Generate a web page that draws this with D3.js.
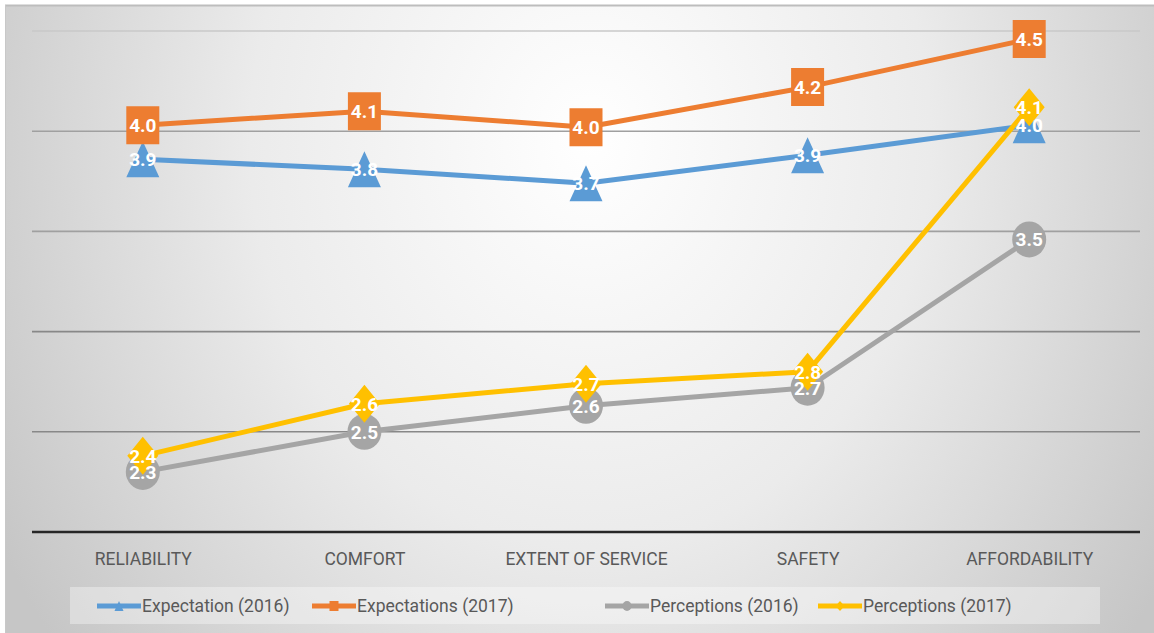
<!DOCTYPE html>
<html>
<head>
<meta charset="utf-8">
<script src="https://cdn.jsdelivr.net/npm/d3@7"></script>
<style>
    html, body { margin: 0; padding: 0; background: #ffffff; }
    #chart { width: 1154px; height: 633px; }
</style>
</head>
<body>
<div id="chart"></div>
<script>
const categories = ['RELIABILITY', 'COMFORT', 'EXTENT OF SERVICE', 'SAFETY', 'AFFORDABILITY'];
const seriesNames = ['Expectation (2016)', 'Expectations (2017)', 'Perceptions (2016)', 'Perceptions (2017)'];
const expectation2016 = [3.86, 3.81, 3.74, 3.88, 4.03];
const expectations2017 = [4.03, 4.10, 4.02, 4.22, 4.46];
const perceptions2016 = [2.30, 2.50, 2.63, 2.72, 3.46];
const perceptions2017 = [2.38, 2.64, 2.74, 2.80, 4.12];
const yTicks = [2.0, 2.5, 3.0, 3.5, 4.0, 4.5];

const width = 1154;
const height = 633;
const [mt, mr, mb, ml] = [31, 14, 101, 32];

const colors = ['#5b9bd5', '#ed7d31', '#a5a5a5', '#ffc000'];
const shapes = ['triangle', 'square', 'circle', 'diamond'];

// marker path, centred on 0,0
const markerPath = (shape, w, h) => {
    const hw = w / 2;
    const hh = h / 2;
    if (shape === 'triangle') return `M0,${-hh}L${hw},${hh}L${-hw},${hh}Z`;
    if (shape === 'square') return `M${-hw},${-hh}H${hw}V${hh}H${-hw}Z`;
    if (shape === 'diamond') return `M0,${-hh}L${hw},0L0,${hh}L${-hw},0Z`;
    return `M${-hw},0A${hw},${hh} 0 1,0 ${hw},0A${hw},${hh} 0 1,0 ${-hw},0Z`;
};

const svg = d3
    .select('#chart')
    .append('svg')
    .attr('width', width)
    .attr('height', height)
    .attr('viewBox', [0, 0, width, height])
    .attr('font-family', 'Roboto, "Open Sans", sans-serif');

// background gradient, light in the top middle, darker toward the sides
const defs = svg.append('defs');
const grad = defs
    .append('radialGradient')
    .attr('id', 'bg')
    .attr('gradientUnits', 'userSpaceOnUse')
    .attr('cx', 590)
    .attr('cy', 140)
    .attr('r', 680)
    .attr('gradientTransform', 'translate(590,140) scale(1,1.2) translate(-590,-140)');
grad.append('stop').attr('offset', '0%').attr('stop-color', '#ffffff');
grad.append('stop').attr('offset', '50%').attr('stop-color', '#ebebeb');
grad.append('stop').attr('offset', '100%').attr('stop-color', '#c6c6c6');

svg.append('rect')
    .attr('x', 5)
    .attr('y', 5)
    .attr('width', width - 5)
    .attr('height', height - 5)
    .attr('fill', 'url(#bg)');
svg.append('line')
    .attr('x1', 5)
    .attr('x2', width)
    .attr('y1', 5.5)
    .attr('y2', 5.5)
    .attr('stroke', '#bdbdbd')
    .attr('stroke-width', 2);
svg.append('line')
    .attr('x1', 5.5)
    .attr('x2', 5.5)
    .attr('y1', 5)
    .attr('y2', height)
    .attr('stroke', '#c8c8c8')
    .attr('stroke-width', 1);

const x = d3
    .scalePoint()
    .domain(categories)
    .range([ml, width - mr])
    .padding(0.5);

const y = d3
    .scaleLinear()
    .domain([2, 4.5])
    .range([height - mb, mt]);

const graph = svg.append('g');

// gridlines
graph
    .append('g')
    .selectAll('line')
    .data(yTicks.slice(1))
    .join('line')
    .attr('x1', ml)
    .attr('x2', width - mr)
    .attr('y1', (d) => y(d))
    .attr('y2', (d) => y(d))
    .attr('stroke', (d) => (d > 4.2 ? '#c8c8c8' : d > 3.2 ? '#a0a0a0' : '#888888'))
    .attr('stroke-width', 1.6);

// x axis
const xAxis = d3.axisBottom(x).tickSize(0).tickPadding(21);
graph
    .append('g')
    .attr('transform', `translate(0, ${y(yTicks[0])})`)
    .call(xAxis)
    .call((g) => g.select('.domain').attr('stroke', '#262626').attr('stroke-width', 2.5).attr('d', `M${ml},0H${width - mr}`))
    .call((g) =>
        g
            .selectAll('text')
            .attr('font-size', 17.5)
            .attr('fill', '#595959')
            .attr('font-family', 'Roboto, sans-serif')
    );

const seriesData = [expectation2016, expectations2017, perceptions2016, perceptions2017];
const markerSize = [
    [33, 36],
    [33, 38],
    [34, 36],
    [31, 38]
];

const line = d3
    .line()
    .x((d, i) => x(categories[i]))
    .y((d) => y(d));

seriesData.forEach((values, s) => {
    const g = graph.append('g');
    g.append('path')
        .datum(values)
        .attr('d', line)
        .attr('fill', 'none')
        .attr('stroke', colors[s])
        .attr('stroke-width', 5)
        .attr('stroke-linejoin', 'round');
    g.selectAll('path.marker')
        .data(values)
        .join('path')
        .attr('class', 'marker')
        .attr('transform', (d, i) => `translate(${x(categories[i])}, ${y(d)})`)
        .attr('d', markerPath(shapes[s], markerSize[s][0], markerSize[s][1]))
        .attr('fill', colors[s]);
});

// data labels on top of all series
const fmt = d3.format('.1f');
seriesData.forEach((values) => {
    graph
        .append('g')
        .selectAll('text')
        .data(values)
        .join('text')
        .attr('x', (d, i) => x(categories[i]))
        .attr('y', (d) => y(d))
        .attr('dy', '0.36em')
        .attr('text-anchor', 'middle')
        .attr('font-size', 19)
        .attr('font-weight', 'bold')
        .attr('fill', '#ffffff')
        .text((d) => fmt(d));
});

// legend
const legend = svg.append('g');
legend
    .append('rect')
    .attr('x', 70)
    .attr('y', 587)
    .attr('width', 1030)
    .attr('height', 37)
    .attr('fill', '#ffffff')
    .attr('fill-opacity', 0.35);

const legendX = [97, 312, 605, 818];
const legendY = 606;
legendX.forEach((lx, s) => {
    const item = legend.append('g').attr('transform', `translate(${lx}, ${legendY})`);
    item.append('line')
        .attr('x1', 0)
        .attr('x2', 44)
        .attr('stroke', colors[s])
        .attr('stroke-width', 5);
    item.append('path')
        .attr('transform', 'translate(22, 0)')
        .attr('d', markerPath(shapes[s], 9, 10))
        .attr('fill', colors[s]);
    item.append('text')
        .attr('x', 45)
        .attr('dy', '0.36em')
        .attr('font-size', 17.5)
        .attr('fill', '#595959')
        .text(seriesNames[s]);
});
</script>
</body>
</html>
